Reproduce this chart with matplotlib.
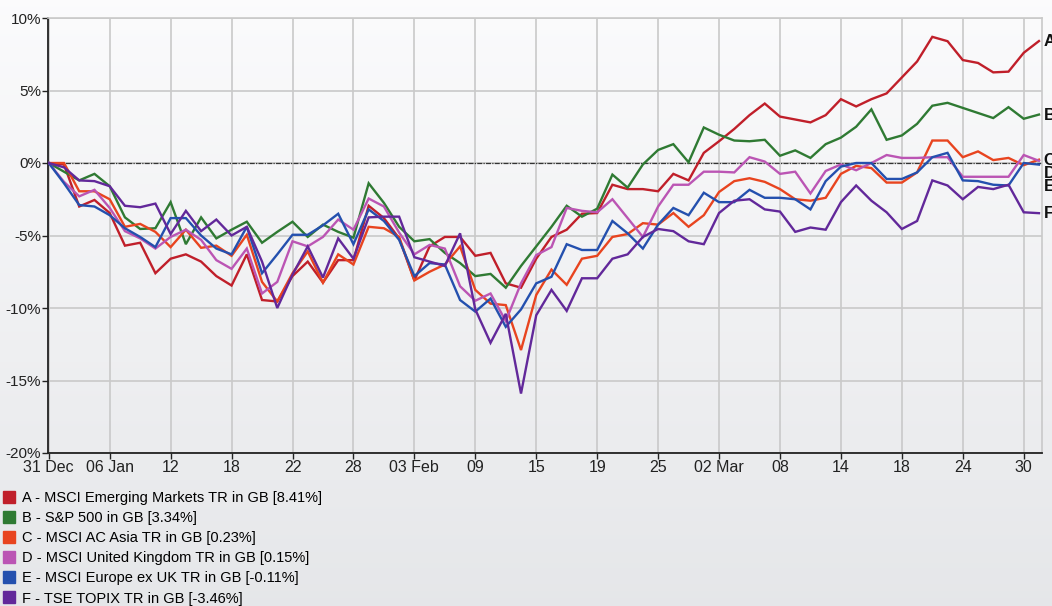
import matplotlib
matplotlib.use("Agg")
import matplotlib.pyplot as plt
import numpy as np
from matplotlib.lines import Line2D

plt.rcParams['font.family'] = ['Liberation Sans', 'DejaVu Sans']

# tick labels every 4 data points
tick_labels = ["31 Dec", "06 Jan", "12", "18", "22", "28", "03 Feb", "09", "15",
               "19", "25", "02 Mar", "08", "14", "18", "24", "30"]

names = ["A - MSCI Emerging Markets TR in GB [8.41%]",
         "B - S&P 500 in GB [3.34%]",
         "C - MSCI AC Asia TR in GB [0.23%]",
         "D - MSCI United Kingdom TR in GB [0.15%]",
         "E - MSCI Europe ex UK TR in GB [-0.11%]",
         "F - TSE TOPIX TR in GB [-3.46%]"]
letters = ["A", "B", "C", "D", "E", "F"]
colors = ["#c01f2a", "#2f7a33", "#e8441f", "#bb55b4", "#2450ae", "#62289a"]

series_a = [0, -0.1, -3.0, -2.55, -3.45, -5.7, -5.5, -7.6, -6.6, -6.3, -6.8, -7.8,
            -8.45, -6.3, -9.45, -9.55, -7.8, -6.8, -8.25, -6.7, -6.7, -2.95, -3.8,
            -5.2, -8.1, -5.75, -5.1, -5.1, -6.4, -6.2, -8.3, -8.6, -6.6, -5.1, -4.6,
            -3.5, -3.45, -1.5, -1.8, -1.8, -1.95, -0.75, -1.2, 0.7, 1.5, 2.35, 3.3,
            4.1, 3.2, 3.0, 2.8, 3.3, 4.4, 3.9, 4.4, 4.8, 5.9, 7.0, 8.7, 8.4, 7.1,
            6.9, 6.25, 6.3, 7.6, 8.41]
series_b = [0, -0.6, -1.2, -0.75, -1.6, -3.75, -4.55, -4.5, -2.7, -5.6, -3.75, -5.2,
            -4.6, -4.05, -5.5, -4.75, -4.05, -5.1, -4.25, -4.75, -5.15, -1.4, -2.75,
            -4.4, -5.4, -5.25, -6.2, -6.9, -7.8, -7.65, -8.6, -7.1, -5.75, -4.4,
            -2.95, -3.7, -3.15, -0.8, -1.7, -0.1, 0.9, 1.3, 0.05, 2.45, 1.95, 1.55,
            1.5, 1.6, 0.5, 0.87, 0.35, 1.3, 1.75, 2.5, 3.7, 1.6, 1.9, 2.7, 3.95,
            4.15, 3.8, 3.45, 3.1, 3.85, 3.05, 3.34]
series_c = [0, 0, -1.95, -1.95, -2.5, -4.4, -4.2, -4.75, -5.8, -4.6, -5.85, -5.7,
            -6.4, -4.95, -8.2, -9.55, -7.6, -6.1, -8.25, -6.3, -7.0, -4.4, -4.5,
            -5.1, -8.1, -7.5, -7.0, -5.75, -8.75, -9.7, -9.8, -12.9, -9.1, -7.35,
            -8.4, -6.6, -6.4, -5.1, -4.9, -4.15, -4.25, -3.45, -4.4, -3.6, -2.0,
            -1.25, -1.05, -1.3, -1.8, -2.5, -2.6, -2.4, -0.75, -0.2, -0.35, -1.35,
            -1.35, -0.65, 1.55, 1.55, 0.4, 0.8, 0.2, 0.35, -0.15, 0.23]
series_d = [0, -1.3, -2.3, -1.85, -3.1, -4.7, -5.2, -5.9, -5.1, -4.6, -5.3, -6.7,
            -7.3, -5.9, -9.0, -8.2, -5.4, -5.75, -5.1, -3.9, -4.6, -2.45, -3.0,
            -4.8, -6.3, -5.65, -5.9, -8.5, -9.5, -9.0, -10.9, -8.3, -6.35, -5.8,
            -3.1, -3.3, -3.4, -2.5, -3.8, -5.1, -3.0, -1.5, -1.5, -0.6, -0.6,
            -0.65, 0.4, 0.1, -0.75, -0.6, -2.1, -0.55, -0.1, -0.5, 0.0, 0.55, 0.35,
            0.35, 0.4, 0.4, -0.95, -0.95, -0.95, -0.95, 0.55, 0.15]
series_e = [0, -1.4, -2.9, -3.0, -3.6, -4.5, -5.1, -5.8, -3.8, -3.8, -5.0, -5.9,
            -6.3, -4.4, -7.6, -6.3, -4.95, -4.95, -4.3, -3.5, -5.6, -3.2, -4.0,
            -5.3, -7.8, -6.9, -7.0, -9.45, -10.25, -9.35, -11.3, -10.1, -8.3,
            -7.85, -5.6, -6.0, -6.0, -4.0, -4.85, -5.9, -4.25, -3.1, -3.6, -2.05,
            -2.7, -2.7, -1.85, -2.4, -2.4, -2.5, -3.2, -1.25, -0.25, 0.0, 0.0,
            -1.1, -1.1, -0.65, 0.4, 0.7, -1.2, -1.25, -1.5, -1.55, 0.0, -0.11]
series_f = [0, -0.3, -1.2, -1.25, -1.6, -2.95, -3.05, -2.8, -4.9, -3.3, -4.7, -3.9,
            -5.0, -4.4, -6.8, -10.0, -7.7, -5.75, -7.9, -5.2, -6.6, -3.75, -3.7,
            -3.7, -6.5, -6.8, -7.1, -4.85, -10.1, -12.4, -10.4, -15.9, -10.5,
            -8.75, -10.2, -7.95, -7.95, -6.6, -6.3, -5.1, -4.55, -4.7, -5.4, -5.6,
            -3.45, -2.6, -2.5, -3.2, -3.35, -4.75, -4.45, -4.6, -2.7, -1.55, -2.6,
            -3.4, -4.55, -4.0, -1.2, -1.55, -2.5, -1.65, -1.8, -1.5, -3.4, -3.46]

all_series = [series_a, series_b, series_c, series_d, series_e, series_f]
# vertical spots for end letters (in data units) so they do not overlap
letter_y = [8.4, 3.3, 0.2, -0.75, -1.65, -3.5]

W, H = 1052, 606
fig = plt.figure(figsize=(W / 100, H / 100), dpi=100)

# background gradient over the whole figure
bg = fig.add_axes([0, 0, 1, 1], zorder=-10)
grad = np.linspace(0, 1, 256).reshape(-1, 1)
top = np.array([0.985, 0.985, 0.99])
bot = np.array([0.90, 0.905, 0.915])
img = top + (bot - top) * grad[..., None]
bg.imshow(img, aspect="auto", extent=[0, 1, 0, 1])
bg.axis("off")

ax = fig.add_axes([48 / W, 1 - 453 / H, (1042 - 48) / W, (453 - 18) / H])
ax.patch.set_alpha(0)

x = np.arange(len(series_a))
for s, c in zip(all_series, colors):
    ax.plot(x, s, color=c, lw=1.7, zorder=3, solid_joinstyle="miter")

ax.axhline(0, color="#333333", lw=0.9, ls=(0, (4, 1, 1, 1)), zorder=2)

ax.set_xlim(-0.05, 65.2)
ax.set_ylim(-20, 10)
ax.set_yticks(np.arange(-20, 11, 5))
ax.set_yticklabels([f"{v}%" for v in range(-20, 11, 5)])
ax.set_xticks(np.arange(0, 65, 4))
ax.set_xticklabels(tick_labels)

ax.grid(True, color="#c9c9c9", lw=1.2, zorder=1)
for side in ["top", "right"]:
    ax.spines[side].set_color("#c9c9c9")
    ax.spines[side].set_linewidth(1.2)
for side in ["left", "bottom"]:
    ax.spines[side].set_color("#222222")
    ax.spines[side].set_linewidth(1.3)
ax.tick_params(axis="both", colors="#222222", labelsize=11, length=4, width=1, pad=1)
ax.tick_params(axis="x", labelsize=11.5, pad=1)

for lab, ly in zip(letters, letter_y):
    ax.text(65.3, ly, lab, fontsize=12, fontweight="bold", color="#111111",
            va="center", ha="left", clip_on=False)

handles = [Line2D([], [], marker="s", ls="", color=c, markersize=8) for c in colors]
fig.legend(handles, names, loc="upper left", bbox_to_anchor=(0.0, 1 - 488 / H),
           frameon=False, fontsize=10.5, handlelength=0.8, handletextpad=0.5,
           labelspacing=0.42, borderaxespad=0, borderpad=0.2)

fig.savefig("out.png", dpi=100)
